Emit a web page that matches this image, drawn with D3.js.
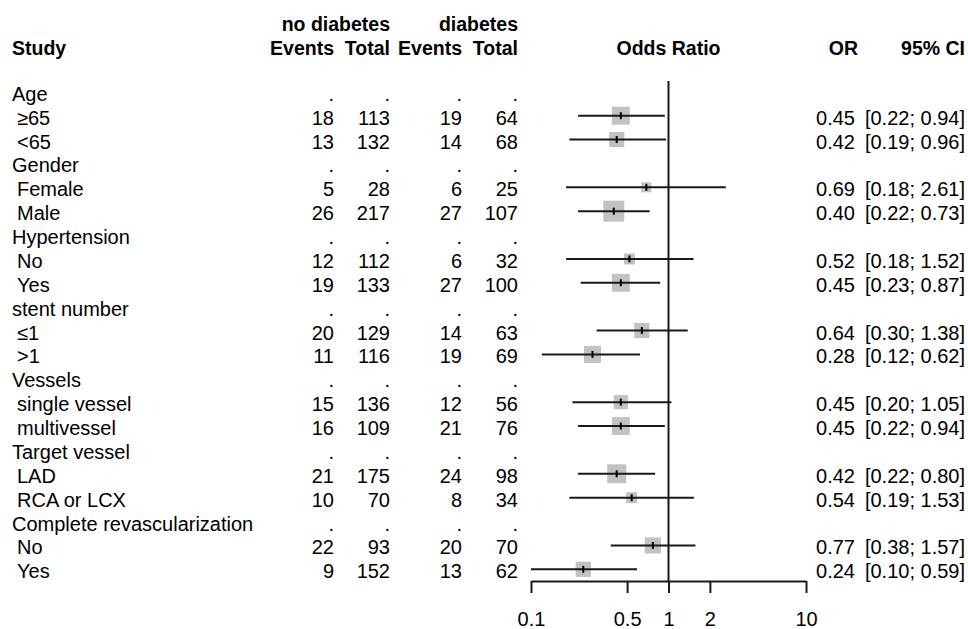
<!DOCTYPE html>
<html>
<head>
<meta charset="utf-8">
<script src="https://cdn.jsdelivr.net/npm/d3@7"></script>
<style>
  html, body { margin: 0; padding: 0; background: #fff; }
  svg { display: block; }
  text { font-family: "Liberation Sans", Arial, sans-serif; fill: #000; }
</style>
</head>
<body>
<div id="chart"></div>
<script>
// ---------------- DATA ----------------
const labels = ["Age", "≥65", "<65", "Gender", "Female", "Male", "Hypertension", "No", "Yes",
  "stent number", "≤1", ">1", "Vessels", "single vessel", "multivessel", "Target vessel", "LAD", "RCA or LCX",
  "Complete revascularization", "No", "Yes"];
const isGroup = [true, false, false, true, false, false, true, false, false, true, false, false,
  true, false, false, true, false, false, true, false, false];
const eventsND = [".", 18, 13, ".", 5, 26, ".", 12, 19, ".", 20, 11, ".", 15, 16, ".", 21, 10, ".", 22, 9];
const totalND  = [".", 113, 132, ".", 28, 217, ".", 112, 133, ".", 129, 116, ".", 136, 109, ".", 175, 70, ".", 93, 152];
const eventsD  = [".", 19, 14, ".", 6, 27, ".", 6, 27, ".", 14, 19, ".", 12, 21, ".", 24, 8, ".", 20, 13];
const totalD   = [".", 64, 68, ".", 25, 107, ".", 32, 100, ".", 63, 69, ".", 56, 76, ".", 98, 34, ".", 70, 62];
const oddsRatio = [null, 0.45, 0.42, null, 0.69, 0.40, null, 0.52, 0.45, null, 0.64, 0.28, null, 0.45, 0.45, null, 0.42, 0.54, null, 0.77, 0.24];
const ciLower   = [null, 0.22, 0.19, null, 0.18, 0.22, null, 0.18, 0.23, null, 0.30, 0.12, null, 0.20, 0.22, null, 0.22, 0.19, null, 0.38, 0.10];
const ciUpper   = [null, 0.94, 0.96, null, 2.61, 0.73, null, 1.52, 0.87, null, 1.38, 0.62, null, 1.05, 0.94, null, 0.80, 1.53, null, 1.57, 0.59];
const weights   = [null, 3.2, 2.3, null, 1.0, 4.4, null, 1.2, 3.2, null, 2.3, 2.9, null, 2.0, 3.2, null, 3.6, 1.2, null, 2.6, 2.3];
const tickValues = [0.1, 0.5, 1, 2, 10];
const tickLabels = ["0.1", "0.5", "1", "2", "10"];
const headerTop = ["no diabetes", "diabetes"];
const headerCols = ["Events", "Total", "Events", "Total"];

// ---------------- LAYOUT ----------------
const W = 968, H = 629;
const svg = d3.select("#chart").append("svg").attr("width", W).attr("height", H);

const fs = 20;
const y = d3.scaleLinear().domain([0, 20]).range([91.8, 569.3]);
const x = d3.scaleLog().domain([0.1, 10]).range([531, 806]);
const size = d3.scaleSqrt().domain([0, d3.max(weights)]).range([0, 21]);
const textOff = 9;

const colRight = [334, 390, 462, 518];
const fmt = d3.format(".2f");

// headers
svg.append("text").attr("x", 390).attr("y", 31).attr("text-anchor", "end")
  .attr("font-weight", "bold").attr("font-size", 19.5).text(headerTop[0]);
svg.append("text").attr("x", 518).attr("y", 31).attr("text-anchor", "end")
  .attr("font-weight", "bold").attr("font-size", 19.5).text(headerTop[1]);
svg.append("text").attr("x", 12).attr("y", 55).attr("font-weight", "bold").attr("font-size", 19.5).text("Study");
headerCols.forEach((h, i) => {
  svg.append("text").attr("x", colRight[i]).attr("y", 55).attr("text-anchor", "end")
    .attr("font-weight", "bold").attr("font-size", 19.5).text(h);
});
svg.append("text").attr("x", x(1)).attr("y", 55).attr("text-anchor", "middle")
  .attr("font-weight", "bold").attr("font-size", 19.5).text("Odds Ratio");
svg.append("text").attr("x", 858).attr("y", 55).attr("text-anchor", "end")
  .attr("font-weight", "bold").attr("font-size", 19.5).text("OR");
svg.append("text").attr("x", 965).attr("y", 55).attr("text-anchor", "end")
  .attr("font-weight", "bold").attr("font-size", 19.5).text("95% CI");

// rows text
const rows = svg.append("g").attr("font-size", fs);
labels.forEach((lab, i) => {
  const ty = y(i) + textOff;
  rows.append("text").attr("x", isGroup[i] ? 12 : 17).attr("y", ty).text(lab);
  [eventsND[i], totalND[i], eventsD[i], totalD[i]].forEach((v, k) => {
    rows.append("text").attr("x", colRight[k]).attr("y", ty).attr("text-anchor", "end")
      .text(v);
  });
  if (oddsRatio[i] != null) {
    rows.append("text").attr("x", 855).attr("y", ty).attr("text-anchor", "end").text(fmt(oddsRatio[i]));
    rows.append("text").attr("x", 965).attr("y", ty).attr("text-anchor", "end")
      .text("[" + fmt(ciLower[i]) + "; " + fmt(ciUpper[i]) + "]");
  }
});

// reference line
svg.append("line").attr("x1", x(1)).attr("x2", x(1)).attr("y1", 81).attr("y2", 581)
  .attr("stroke", "#1a1a1a").attr("stroke-width", 2);

// squares, CIs, point ticks
const idx = d3.range(labels.length).filter(i => oddsRatio[i] != null);
const marks = svg.append("g");
idx.forEach(i => {
  const s = size(weights[i]);
  marks.append("rect").attr("x", x(oddsRatio[i]) - s / 2).attr("y", y(i) - s / 2)
    .attr("width", s).attr("height", s).attr("fill", "#c2c2c2");
  marks.append("line").attr("x1", x(Math.max(ciLower[i], 0.1))).attr("x2", x(Math.min(ciUpper[i], 10)))
    .attr("y1", y(i)).attr("y2", y(i)).attr("stroke", "#1a1a1a").attr("stroke-width", 2);
  marks.append("line").attr("x1", x(oddsRatio[i])).attr("x2", x(oddsRatio[i]))
    .attr("y1", y(i) - 3.5).attr("y2", y(i) + 3.5).attr("stroke", "#000").attr("stroke-width", 2);
});

// axis
const axis = d3.axisBottom(x).tickValues(tickValues).tickFormat((d, i) => tickLabels[i])
  .tickSize(12).tickSizeOuter(0).tickPadding(19);
const ag = svg.append("g").attr("transform", "translate(0,581)").call(axis);
ag.select(".domain").attr("stroke", "#1a1a1a").attr("stroke-width", 2);
ag.selectAll(".tick line").attr("stroke", "#1a1a1a").attr("stroke-width", 2);
ag.selectAll(".tick text").attr("font-size", fs).attr("font-family", "Liberation Sans, Arial, sans-serif").attr("fill", "#000");
</script>
</body>
</html>
